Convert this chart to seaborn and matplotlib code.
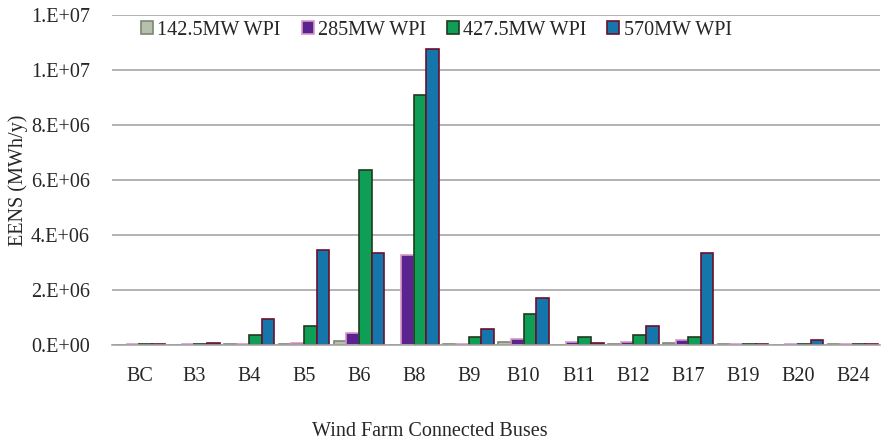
import numpy as np
import pandas as pd
import seaborn as sns
import matplotlib.pyplot as plt
from matplotlib.ticker import FuncFormatter

buses = ['BC', 'B3', 'B4', 'B5', 'B6', 'B8', 'B9', 'B10', 'B11', 'B12', 'B17', 'B19', 'B20', 'B24']
series = ['142.5MW WPI', '285MW WPI', '427.5MW WPI', '570MW WPI']

eens_142 = [10000, 10000, 20000, 40000, 130000, 10000, 20000, 100000, 10000, 50000, 60000, 20000, 10000, 20000]
eens_285 = [15000, 15000, 50000, 80000, 450000, 3270000, 50000, 200000, 120000, 120000, 180000, 20000, 15000, 20000]
eens_427 = [20000, 30000, 360000, 690000, 6360000, 9100000, 280000, 1120000, 280000, 370000, 280000, 20000, 20000, 20000]
eens_570 = [30000, 60000, 950000, 3450000, 3350000, 10750000, 590000, 1720000, 80000, 670000, 3350000, 20000, 180000, 20000]

fill_colors = ['#b7c0ad', '#5a2390', '#0f9e55', '#1476ab']
edge_colors = ['#7d8874', '#d59ac6', '#1f3b1f', '#6e0f2e']

df = pd.DataFrame({
    'bus': buses * 4,
    'series': np.repeat(series, len(buses)),
    'eens': eens_142 + eens_285 + eens_427 + eens_570,
})

sns.set_style("white")
plt.rcParams['font.family'] = ['Liberation Serif', 'DejaVu Serif']
fs = 14.5

fig = plt.figure(figsize=(8.82, 4.45), dpi=100)
ax = fig.add_axes([0.127, 0.225, 0.871, 0.741])

sns.barplot(data=df, x='bus', y='eens', hue='series', palette=fill_colors,
            saturation=1, width=0.92, ax=ax, legend=True)

for cont, ec in zip(ax.containers, edge_colors):
    for bar in cont:
        bar.set_edgecolor(ec)
        bar.set_linewidth(1.2)

ax.set_ylim(0, 1.2e7)
ax.set_yticks(np.arange(0, 1.21e7, 2e6))
ax.yaxis.set_major_formatter(FuncFormatter(lambda v, p: f"{v:.0E}".replace("E", ".E")))
ax.set_xlim(-0.5, len(buses) - 0.5)
ax.grid(axis='y', color='#a6a6a6', linewidth=1.2)
ax.set_axisbelow(True)
for s in ['left', 'right', 'top']:
    ax.spines[s].set_visible(False)
ax.spines['bottom'].set_color('#a6a6a6')
ax.spines['bottom'].set_linewidth(1.2)
ax.tick_params(axis='y', labelsize=fs, length=0, pad=16)
ax.tick_params(axis='x', labelsize=fs, length=0, pad=16)

ax.set_xlabel('Wind Farm Connected Buses', fontsize=fs)
ax.xaxis.set_label_coords(0.414, -0.235)
ax.set_ylabel('EENS (MWh/y)', fontsize=fs, labelpad=2)

leg = ax.legend(loc='upper center', bbox_to_anchor=(0.422, 1.02), ncol=4, frameon=False,
                fontsize=fs, handlelength=0.6, handleheight=0.6, handletextpad=0.2,
                columnspacing=1.05, borderaxespad=0.2)
for h, ec in zip(leg.legend_handles, edge_colors):
    h.set_edgecolor(ec)
    h.set_linewidth(1.2)

fig.savefig('out.png', dpi=100)
